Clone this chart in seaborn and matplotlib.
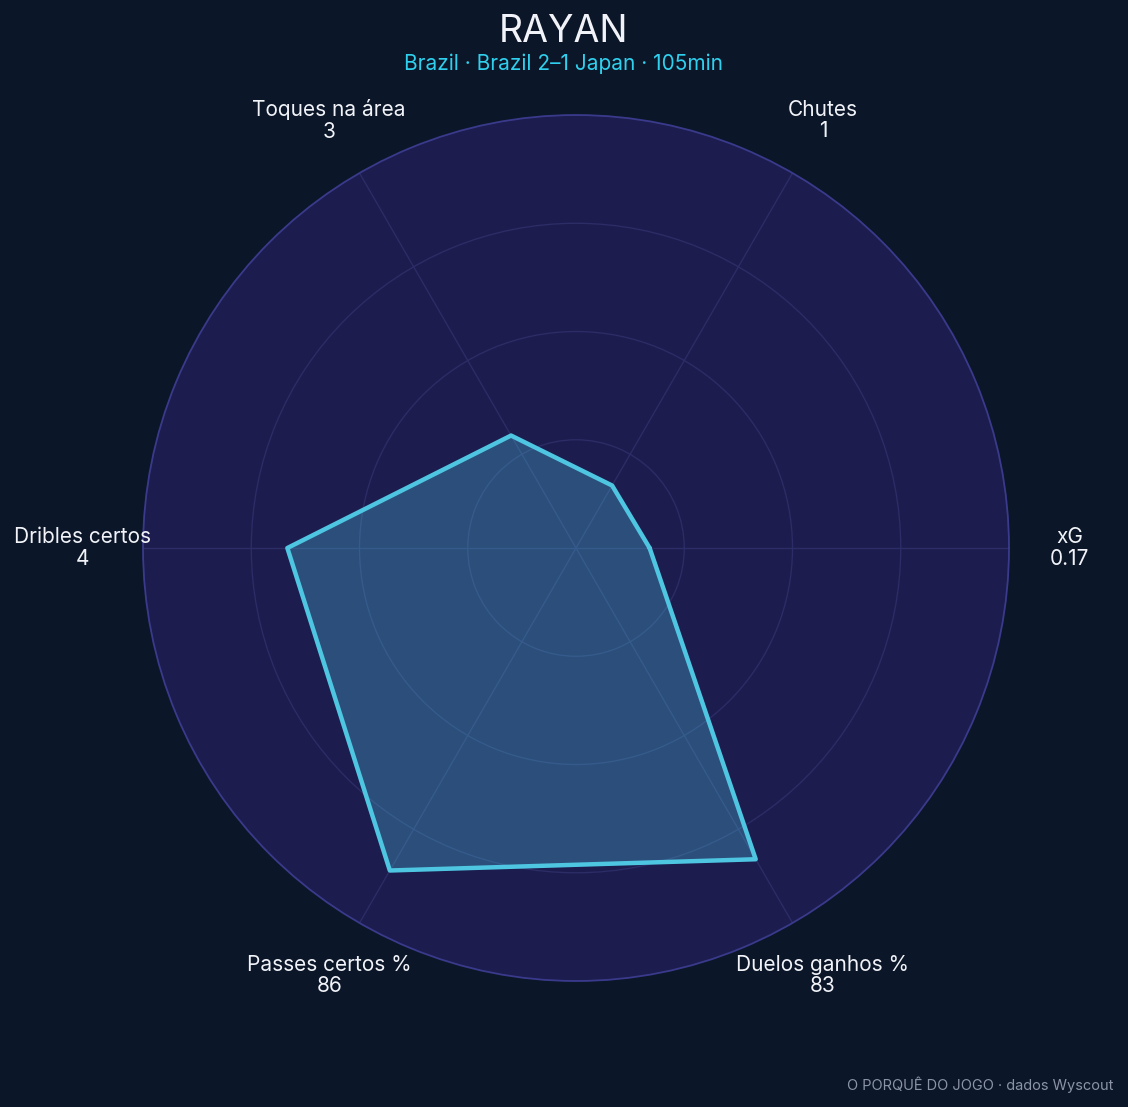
import numpy as np
import pandas as pd
import matplotlib
matplotlib.use("Agg")
import matplotlib.pyplot as plt
import seaborn as sns

# ---- data ----
categories = ["xG", "Chutes", "Toques na área", "Dribles certos", "Passes certos %", "Duelos ganhos %"]
value_labels = ["0.17", "1", "3", "4", "86", "83"]
raw_values = [0.17, 1, 3, 4, 86, 83]
max_values = [1.0, 6, 10, 6, 100, 100]
ring_levels = [0.25, 0.5, 0.75, 1.0]

title = "RAYAN"
subtitle = "Brazil · Brazil 2–1 Japan · 105min"
footer = "O PORQUÊ DO JOGO · dados Wyscout"

BG = "#0b1628"
FACE = "#1c1c4e"
LINE = "#4ec6e2"
GRID = "#2c2c66"
SPINE = "#3a3a8c"

sns.set_theme(style="white")
plt.rcParams["font.family"] = ["Inter", "DejaVu Sans"]

n = len(categories)
theta = np.linspace(0, 2 * np.pi, n, endpoint=False)
norm = np.array(raw_values, dtype=float) / np.array(max_values, dtype=float)
df = pd.DataFrame({"theta": np.append(theta, theta[0]), "r": np.append(norm, norm[0])})

fig = plt.figure(figsize=(11.28, 11.07), dpi=100, facecolor=BG)
ax = fig.add_axes([0.1268, 0.1138, 0.7677, 0.7823], projection="polar")
ax.set_facecolor(FACE)
ax.set_ylim(0, 1)
ax.set_xticks(theta)
ax.set_xticklabels([])
ax.set_yticks(ring_levels[:-1])
ax.set_yticklabels([])
ax.grid(True, color=GRID, linewidth=1.0)
ax.spines["polar"].set_color(SPINE)
ax.spines["polar"].set_linewidth(1.3)

ax.fill(df["theta"], df["r"], color=LINE, alpha=0.3, zorder=2, linewidth=0)
sns.lineplot(data=df, x="theta", y="r", ax=ax, sort=False, estimator=None,
             color=LINE, linewidth=3.2, zorder=3)
ax.set_xlabel("")
ax.set_ylabel("")

for t, c, v in zip(theta, categories, value_labels):
    ax.text(t, 1.14, f"{c}\n{v}", ha="center", va="center", color="#f1f3f8",
            fontsize=15, linespacing=1.1)

fig.text(0.5, 0.971, title, ha="center", va="center", color="#f1f3f8", fontsize=27)
fig.text(0.5, 0.942, subtitle, ha="center", va="center", color="#2fd0ee", fontsize=15)
fig.text(0.987, 0.02, footer, ha="right", va="center", color="#8a94a6", fontsize=10.5)

fig.savefig("out.png", dpi=100, facecolor=BG)
